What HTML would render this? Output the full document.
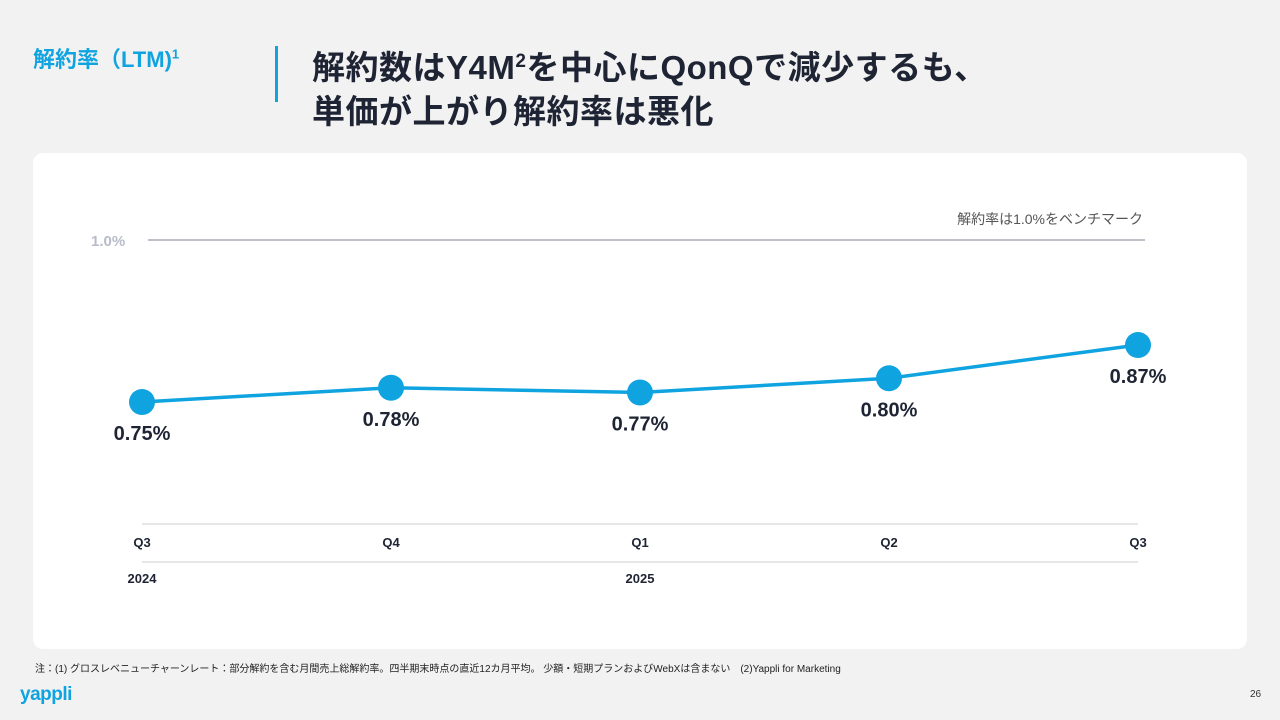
<!DOCTYPE html>
<html><head><meta charset="utf-8">
<style>
body{margin:0;width:1280px;height:720px;background:#f2f2f2;font-family:"Liberation Sans","Noto Sans CJK JP",sans-serif;position:relative;overflow:hidden}
.abs{position:absolute}
</style></head>
<body>
<div class="abs" style="left:33px;top:42px;font-size:22px;font-weight:bold;color:#0fa3e0">解約率（LTM)<sup style="font-size:13px">1</sup></div>
<div class="abs" style="left:275px;top:46px;width:3px;height:56px;background:#0fa3e0"></div>
<div class="abs" style="left:312px;top:40px;font-size:33px;font-weight:bold;color:#1e2433;line-height:44px;letter-spacing:0.5px">解約数はY4M<sup style="font-size:19px">2</sup>を中心にQonQで減少するも、<br>単価が上がり解約率は悪化</div>
<div class="abs" style="left:33px;top:153px;width:1214px;height:496px;background:#fff;border-radius:10px"></div>
<svg class="abs" style="left:0;top:0" width="1280" height="720">
<g id="g"></g>
</svg>
<div class="abs" style="left:35px;top:660px;font-size:10px;color:#222">注：(1) グロスレベニューチャーンレート：部分解約を含む月間売上総解約率。四半期末時点の直近12カ月平均。 少額・短期プランおよびWebXは含まない　(2)Yappli for Marketing</div>
<div class="abs" style="left:20px;top:684px;font-size:19px;font-weight:bold;color:#0fa3e0;letter-spacing:-0.5px">yappli</div>
<div class="abs" style="left:1250px;top:689px;font-size:10px;color:#333">26</div>
<script>
const categories=["Q3","Q4","Q1","Q2","Q3"];
const years=["2024","","2025","",""];
const values=[0.75,0.78,0.77,0.80,0.87];
const benchmark=1.0;
const labels=["0.75%","0.78%","0.77%","0.80%","0.87%"];
const NS="http://www.w3.org/2000/svg";
const g=document.getElementById('g');
const x=i=>142+i*249;
const y=v=>402-(v-0.75)*475;
function el(t,a,txt){const e=document.createElementNS(NS,t);for(const k in a)e.setAttribute(k,a[k]);if(txt!==undefined)e.textContent=txt;g.appendChild(e);return e;}
let e;
e=el('line',{x1:148,x2:1145,y1:240,y2:240,stroke:'#9a9aa6','stroke-width':1.2});


e=el('text',{x:91,y:246,'font-size':15,'font-weight':'bold',fill:'#b8bcc8'},benchmark.toFixed(1)+'%');


e=el('text',{x:1143,y:224,'text-anchor':'end','font-size':14,fill:'#555'},'解約率は1.0%をベンチマーク');


e=el('line',{x1:142,x2:1138,y1:524,y2:524,stroke:'#ccc','stroke-width':1});


e=el('line',{x1:142,x2:1138,y1:562,y2:562,stroke:'#ccc','stroke-width':1});


e=el('polyline',{points:values.map((v,i)=>x(i)+','+y(v)).join(' '),fill:'none',stroke:'#0fa3e0','stroke-width':3.5});


values.forEach((v,i)=>{
 let c=el('circle',{cx:x(i),cy:y(v),r:13,fill:'#0fa3e0'});
 
 
 let t=el('text',{x:x(i),y:y(v)+38,'text-anchor':'middle','font-size':20,'font-weight':'bold',fill:'#1e2433'},labels[i]);
 
 
 let q=el('text',{x:x(i),y:547,'text-anchor':'middle','font-size':13,'font-weight':'bold',fill:'#1e2433'},categories[i]);
 
 
 if(years[i]){let yl=el('text',{x:x(i),y:583,'text-anchor':'middle','font-size':13,'font-weight':'bold',fill:'#1e2433'},years[i]);
 
 }
});
</script>
</body></html>
